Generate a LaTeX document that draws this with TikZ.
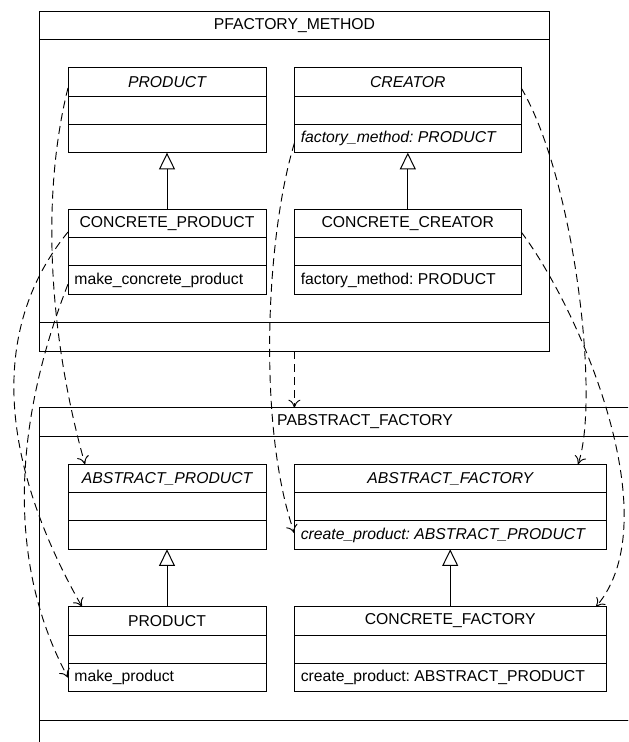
\documentclass[tikz,border=0pt]{standalone}
\usepackage{fontspec}
\setmainfont{Liberation Sans}
\usetikzlibrary{arrows.meta}
\frenchspacing

\tikzset{
  every node/.style={font=\fontsize{11.8pt}{14pt}\selectfont},
  compart/.style={draw, line width=0.75pt, inner sep=0pt, outer sep=0pt,
    anchor=north west, minimum height=28.33*0.75pt},
  feattext/.style={anchor=west, inner sep=0pt, outer sep=0pt},
  gen/.style={line width=0.75pt, -{Triangle[open, length=12.5pt, width=12pt, fill=white]}},
  dep/.style={line width=0.7pt, dash pattern=on 6pt off 3.75pt,
    -{To[length=6pt, width=9pt]}},
  deferred/.style={font=\fontsize{11.8pt}{14pt}\selectfont\itshape},
  effective/.style={}
}

% class box: id, x, y, width (px), name, feature, text style
\newcommand\umlclass[7]{%
  \node[compart, minimum width=#4*0.75pt, #7] (#1) at (#2,#3) {#5};
  \node[compart, minimum width=#4*0.75pt] (#1-attr) at (#1.south west) {};
  \node[compart, minimum width=#4*0.75pt] (#1-feat) at (#1-attr.south west) {};
  \node[feattext, #7] (#1-ftext) at ([xshift=4.8pt]#1-feat.west) {#6};
}

\begin{document}
\begin{tikzpicture}[x=0.75pt, y=-0.75pt]
\useasboundingbox (0,0) rectangle (628,742);
\clip (0,0) rectangle (628,742);

% package PFACTORY_METHOD
\node[compart, minimum width=510.4*0.75pt, minimum height=28*0.75pt] (pfm) at (39.2,11.3) {PFACTORY\_METHOD};
\node[compart, minimum width=510.4*0.75pt, minimum height=283.4*0.75pt] (pfm-body) at (pfm.south west) {};
\node[compart, minimum width=510.4*0.75pt, minimum height=28.3*0.75pt] (pfm-bot) at (pfm-body.south west) {};

% package PABSTRACT_FACTORY
\node[compart, minimum width=651.8*0.75pt, minimum height=28.3*0.75pt] (paf) at (39.2,407.7) {PABSTRACT\_FACTORY};
\node[compart, minimum width=651.8*0.75pt, minimum height=284*0.75pt] (paf-body) at (paf.south west) {};
\node[compart, minimum width=651.8*0.75pt, minimum height=30*0.75pt] (paf-bot) at (paf-body.south west) {};

% classes of PFACTORY_METHOD
\umlclass{prodT}{68}{67.7}{198}{PRODUCT}{}{deferred}
\umlclass{creator}{294.4}{67.7}{226.8}{CREATOR}{factory\_method: PRODUCT}{deferred}
\umlclass{cprod}{68}{209.3}{198}{CONCRETE\_PRODUCT}{make\_concrete\_product}{effective}
\umlclass{ccreator}{294.4}{209.3}{226.8}{CONCRETE\_CREATOR}{factory\_method: PRODUCT}{effective}

% classes of PABSTRACT_FACTORY
\umlclass{aprod}{68}{464.3}{198}{ABSTRACT\_PRODUCT}{}{deferred}
\umlclass{afact}{294.4}{464.3}{311.6}{ABSTRACT\_FACTORY}{create\_product: ABSTRACT\_PRODUCT}{deferred}
\umlclass{prod}{68}{606.7}{198}{PRODUCT}{make\_product}{effective}
\umlclass{cfact}{294.4}{606.7}{311.6}{CONCRETE\_FACTORY}{create\_product: ABSTRACT\_PRODUCT}{effective}

% inheritance
\draw[gen] (cprod.north) -- (prodT-feat.south);
\draw[gen] (ccreator.north) -- (creator-feat.south);
\draw[gen] (prod.north) -- (aprod-feat.south);
\draw[gen] (cfact.north) -- (afact-feat.south);

% mappings from PFACTORY_METHOD to PABSTRACT_FACTORY
\draw[dep] (pfm-bot.south) -- (paf.north -| pfm-bot.south);
\draw[dep] ([yshift=-4.5pt]prodT.west) .. controls (40,200) and (50,340) .. ([xshift=12.75pt]aprod.north west);
\draw[dep] ([yshift=-6.4pt]cprod.west) .. controls (-20,340) and (10,480) .. ([xshift=10.5pt]prod.north west);
\draw[dep] ([yshift=-3pt]cprod-feat.west) .. controls (15,420) and (5,560) .. (prod-feat.west);
\draw[dep] ([yshift=-3.4pt]creator-feat.west) .. controls (265,240) and (258,430) .. ([yshift=1.5pt]afact-feat.west);
\draw[dep] ([yshift=-4.5pt]creator.east) .. controls (575,180) and (600,400) .. ([xshift=-21pt]afact.north east);
\draw[dep] ([yshift=-6.4pt]ccreator.east) .. controls (580,310) and (670,520) .. ([xshift=-7.5pt]cfact.north east);
\end{tikzpicture}
\end{document}
